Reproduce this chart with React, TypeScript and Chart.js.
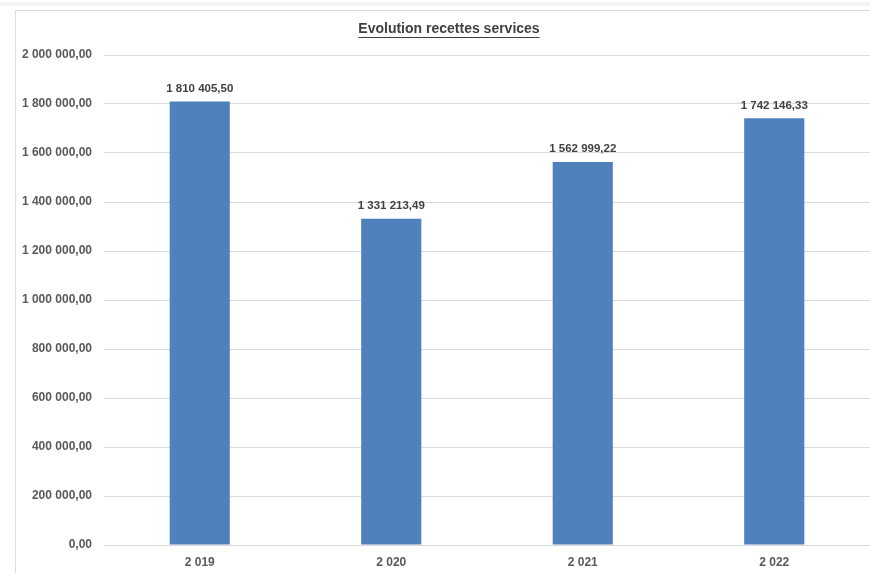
import React, { useEffect, useRef } from "react";
import { Chart, registerables } from "chart.js";

Chart.register(...registerables);

const title = "Evolution recettes services";
const years = ["2 019", "2 020", "2 021", "2 022"];
const recettes = [1810405.5, 1331213.49, 1562999.22, 1742146.33];
const yMin = 0;
const yMax = 2000000;
const yStep = 200000;

const FONT = "'Liberation Sans', Arial, sans-serif";

function fmt(v: number): string {
  const s = Math.abs(v).toFixed(2);
  const [ip, dp] = s.split(".");
  const withSp = ip.replace(/\B(?=(\d{3})+(?!\d))/g, " ");
  return (v < 0 ? "-" : "") + withSp + "," + dp;
}

const valueLabels = {
  id: "valueLabels",
  afterDatasetsDraw(chart: any) {
    const ctx = chart.ctx;
    const meta = chart.getDatasetMeta(0);
    ctx.save();
    ctx.font = "bold 11.5px " + FONT;
    ctx.fillStyle = "#404040";
    ctx.textAlign = "center";
    ctx.textBaseline = "bottom";
    meta.data.forEach((bar: any, i: number) => {
      const v = chart.data.datasets[0].data[i];
      ctx.fillText(fmt(v), bar.x, bar.y - 7);
    });
    ctx.restore();
  },
};

const titlePlugin = {
  id: "ulTitle",
  afterDraw(chart: any) {
    const ctx = chart.ctx;
    ctx.save();
    ctx.font = "bold 14px " + FONT;
    ctx.fillStyle = "#404040";
    ctx.textAlign = "center";
    ctx.textBaseline = "middle";
    const cx = 449;
    const cy = 29;
    ctx.fillText(title, cx, cy);
    const w = ctx.measureText(title).width;
    ctx.strokeStyle = "#404040";
    ctx.lineWidth = 1;
    ctx.beginPath();
    ctx.moveTo(cx - w / 2, cy + 8.5);
    ctx.lineTo(cx + w / 2, cy + 8.5);
    ctx.stroke();
    ctx.restore();
  },
};

export default function App() {
  const ref = useRef<HTMLCanvasElement>(null);

  useEffect(() => {
    const prevMargin = document.body.style.margin;
    document.body.style.margin = "0";
    if (!ref.current) return;
    const chart = new Chart(ref.current, {
      type: "bar",
      data: {
        labels: years,
        datasets: [
          {
            data: recettes,
            backgroundColor: "#4f81bd",
            borderWidth: 0,
            categoryPercentage: 1,
            barPercentage: 0.314,
          },
        ],
      },
      options: {
        animation: false,
        responsive: false,
        maintainAspectRatio: false,
        layout: { padding: { top: 55, left: 0, right: 0, bottom: 0 } },
        plugins: {
          legend: { display: false },
          tooltip: { enabled: false },
          title: { display: false },
        },
        scales: {
          x: {
            grid: { display: false, drawTicks: false },
            border: { display: true, color: "#d9d9d9", width: 1 },
            ticks: {
              color: "#595959",
              font: { family: FONT, size: 12, weight: "bold" },
              padding: 10,
            },
            afterFit(scale: any) {
              scale.height = 28;
            },
          },
          y: {
            min: yMin,
            max: yMax,
            grid: { color: "#d9d9d9", drawTicks: false, lineWidth: 1 },
            border: { display: false },
            ticks: {
              stepSize: yStep,
              color: "#595959",
              font: { family: FONT, size: 12, weight: "bold" },
              padding: 12,
              callback: (v: any) => fmt(Number(v)),
            },
            afterFit(scale: any) {
              scale.width = 104;
            },
          },
        },
      },
      plugins: [valueLabels, titlePlugin],
    });
    return () => {
      chart.destroy();
      document.body.style.margin = prevMargin;
    };
  }, []);

  return (
    <div
      style={{
        position: "fixed",
        left: 0,
        top: 0,
        width: 870,
        height: 573,
        background: "#ffffff",
        overflow: "hidden",
      }}
    >
      <div style={{ position: "absolute", left: 0, top: 2, width: 870, height: 4, background: "#f3f3f3" }} />
      <div style={{ position: "absolute", left: 15, top: 10, width: 855, height: 1, background: "#dcdcdc" }} />
      <div style={{ position: "absolute", left: 15, top: 10, width: 1, height: 563, background: "#dcdcdc" }} />
      <canvas ref={ref} width={870} height={573} style={{ position: "absolute", left: 0, top: 0 }} />
    </div>
  );
}
